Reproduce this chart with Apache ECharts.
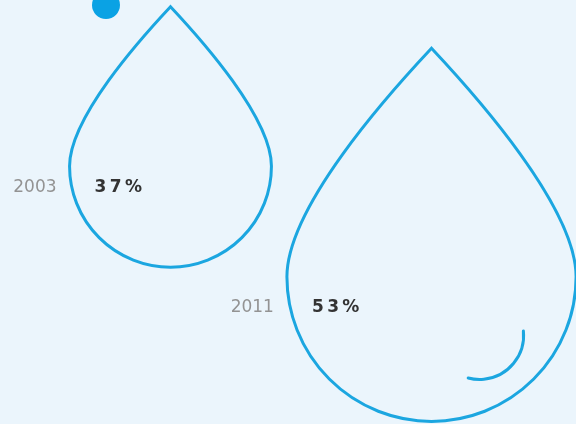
<!DOCTYPE html>
<html>
<head>
<meta charset="utf-8">
<script src="https://cdn.jsdelivr.net/npm/echarts@6/dist/echarts.min.js"></script>
<style>
  html, body { margin: 0; padding: 0; background: #EBF5FC; }
  #chart { width: 576px; height: 424px; }
</style>
</head>
<body>
<div id="chart"></div>
<script>
// Data
const years = ['2003', '2011'];
const shares = [37, 53];

const DROP_PATH = 'M50 0 C35 16 0 55 0 79 A50 50 0 1 0 100 79 C100 55 65 16 50 0 Z';
const BLUE = '#1BA6E0';

const chart = echarts.init(document.getElementById('chart'), null, { renderer: 'canvas' });

function renderDrop(params, api) {
  const v = api.value(1);
  const c = api.coord([api.value(0), v]);
  const h = v * 7.04;
  const w = h * 0.775;
  const x0 = c[0] - w / 2;
  const y0 = c[1] - h / 2;
  const r = w / 2;
  const cy = y0 + h - r;
  const labelY = cy + 0.215 * r;
  const pct = String(v).split('').concat('%').join('\u2009');
  const children = [
    {
      type: 'path',
      shape: { pathData: DROP_PATH, x: x0, y: y0, width: w, height: h, layout: 'cover' },
      style: { fill: 'none', stroke: BLUE, lineWidth: 3, lineJoin: 'miter' }
    },
    {
      type: 'text',
      style: {
        text: years[params.dataIndex], x: x0 - 13, y: labelY,
        align: 'right', verticalAlign: 'middle',
        fill: '#939393', fontSize: 17, fontFamily: 'DejaVu Sans'
      }
    },
    {
      type: 'text',
      style: {
        text: pct, x: x0 + 25, y: labelY,
        align: 'left', verticalAlign: 'middle',
        fill: '#333333', fontSize: 17, fontWeight: 'bold', fontFamily: 'DejaVu Sans'
      }
    }
  ];
  if (params.dataIndex === shares.length - 1) {
    children.push({
      type: 'arc',
      shape: {
        cx: c[0] + 0.332 * r, cy: cy + 0.405 * r, r: 0.305 * r,
        startAngle: -0.1, endAngle: 1.83, clockwise: true
      },
      style: { fill: 'none', stroke: BLUE, lineWidth: 3, lineCap: 'round' }
    });
  }
  return { type: 'group', children: children };
}

chart.setOption({
  backgroundColor: '#EBF5FC',
  animation: false,
  grid: { left: 40, right: 14, top: 33, bottom: 24 },
  xAxis: { type: 'category', data: years, show: false },
  yAxis: { type: 'value', min: 20, max: 80, inverse: true, show: false },
  graphic: [
    { type: 'circle', shape: { cx: 106, cy: 5, r: 14 }, style: { fill: '#0AA2E4' } }
  ],
  series: [{
    type: 'custom',
    clip: false,
    renderItem: renderDrop,
    data: years.map((y, i) => [i, shares[i]]),
    encode: { x: 0, y: 1 }
  }]
});
</script>
</body>
</html>
